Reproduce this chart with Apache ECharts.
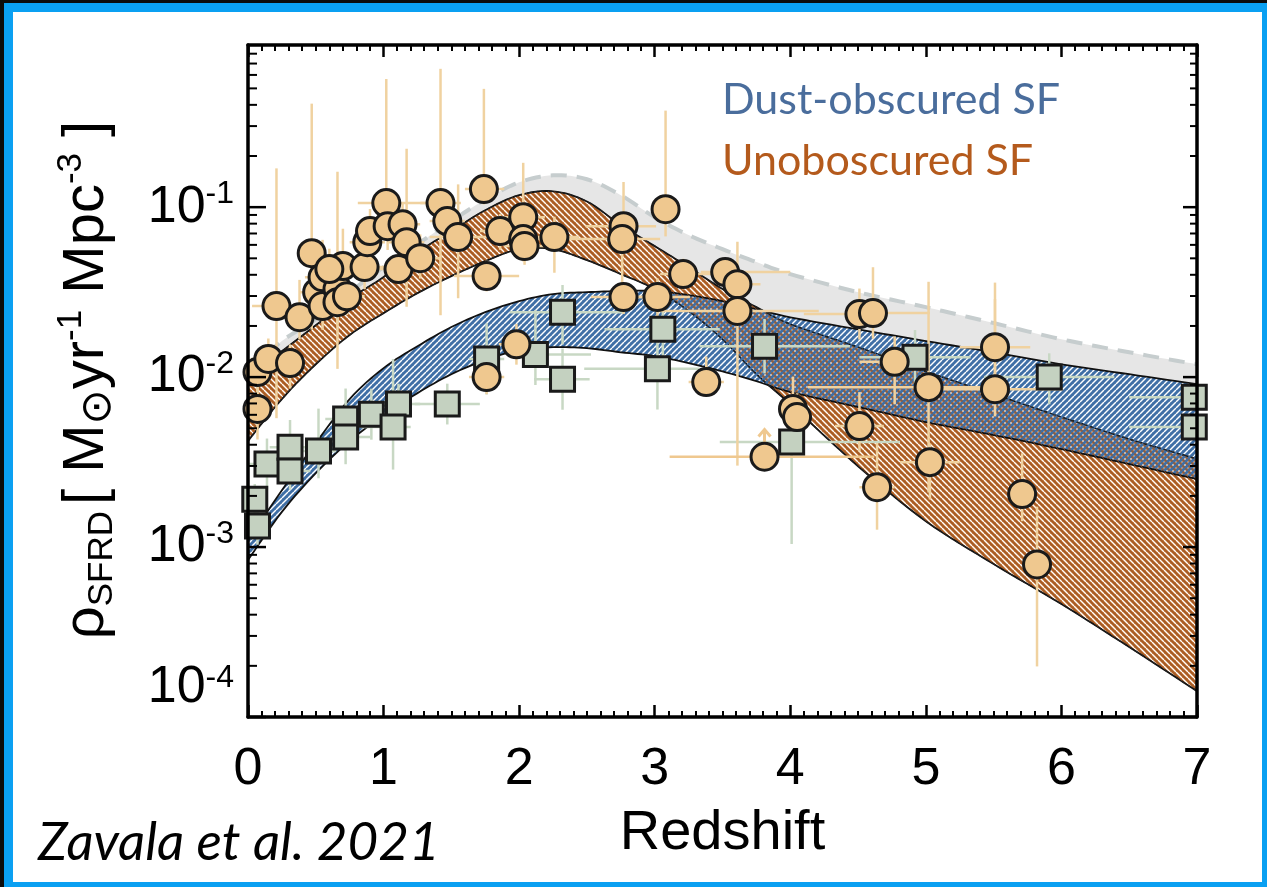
<!DOCTYPE html>
<html>
<head>
<meta charset="utf-8">
<title>Cosmic SFRD</title>
<script src="https://cdn.jsdelivr.net/npm/echarts@6.0.0/dist/echarts.min.js"></script>
<style>
html,body{margin:0;padding:0;width:1267px;height:887px;overflow:hidden;background:#0b0b0b;}
#frame{position:absolute;left:4px;top:3px;width:1263px;height:884px;background:#0aa0f2;}
#inner{position:absolute;left:13px;top:12px;width:1249px;height:870px;background:#ffffff;}
#chart{position:absolute;left:0;top:0;width:1267px;height:887px;}
</style>
</head>
<body>
<div id="frame"></div>
<div id="inner"></div>
<div id="chart"></div>
<script>
// ---------------- data ----------------
const zGrid = [0,0.25,0.5,0.75,1,1.25,1.5,1.75,2,2.25,2.5,2.75,3,3.25,3.5,3.75,4,4.5,5,5.5,6,6.5,7];
// total SFRD upper envelope (grey, dashed)
const totalUpper = [0.0108,0.0163,0.0219,0.0316,0.0444,0.0606,0.0827,0.111,0.14,0.154,0.146,0.1177,0.0873,0.0685,0.0566,0.0475,0.0404,0.0316,0.0258,0.0208,0.0167,0.014,0.0119];
// unobscured SF band (orange)
const unobsUpper = [0.01,0.0142,0.0202,0.0288,0.0388,0.0544,0.0723,0.096,0.1177,0.124,0.108,0.0784,0.059,0.0444,0.033,0.0258,0.0205,0.015,0.0108,0.00794,0.00582,0.00432,0.0033];
const unobsLower = [0.00421,0.00743,0.0119,0.0177,0.0238,0.0312,0.0393,0.0481,0.0566,0.0566,0.0488,0.0404,0.033,0.0245,0.0167,0.0104,0.00694,0.00299,0.00142,0.000794,0.000462,0.000258,0.000142];
// dust-obscured SF band (blue)
const obscUpper = [0.0011,0.00216,0.00409,0.00743,0.0113,0.0152,0.0197,0.0241,0.028,0.0308,0.0316,0.0321,0.0321,0.0304,0.028,0.0251,0.0225,0.0191,0.0163,0.014,0.0119,0.0104,0.0091];
const obscLower = [0.000839,0.00161,0.00272,0.00421,0.00597,0.00805,0.0104,0.0126,0.0144,0.015,0.0148,0.014,0.0133,0.0121,0.0108,0.00946,0.00817,0.00667,0.00544,0.00456,0.00377,0.00308,0.00251];

// UV (unobscured) measurements: [z, rho, zErrLo, zErrHi, dexErrLo, dexErrHi]
const uvPoints = [
 [0.07,0.0107,0.07,0.08,0.13,0.11],[0.07,0.0065,0,0,0.18,0.15],[0.15,0.0128,0.13,0.16,0.15,0.12],
 [0.31,0.0121,0.11,0.11,0.15,0.11],[0.21,0.0262,0.18,0.17,0.66,0.81],[0.38,0.0225,0.11,0.13,0.13,0.22],
 [0.47,0.0536,0,0,0.45,0.88],[0.51,0.0316,0.13,0.13,0.16,0.14],[0.55,0.0387,0.13,0.16,0.13,0.22],
 [0.55,0.0262,0,0,0.14,0.10],[0.66,0.033,0.14,0.17,0.47,0.69],[0.66,0.0276,0,0,0.13,0.11],
 [0.73,0.0299,0.13,0.13,0.11,0.16],[0.70,0.045,0,0,0.14,0.22],[0.60,0.0432,0.11,0.15,0.15,0.12],
 [0.86,0.0444,0.15,0.15,0.13,0.11],[0.88,0.0622,0.13,0.13,0.13,0.14],[0.90,0.0723,0.11,0.16,0.11,0.13],
 [1.02,0.1057,0.21,0.32,0.21,0.73],[1.03,0.0773,0.13,0.13,0.14,0.13],[1.14,0.0794,0.13,0.13,0.12,0.12],
 [1.17,0.0622,0.13,0.13,0.38,0.55],[1.11,0.0432,0.17,0.16,0.09,0.09],[1.27,0.0501,0.15,0.15,0.12,0.14],
 [1.42,0.1057,0.15,0.15,0.66,0.79],[1.47,0.0828,0.13,0.13,0.14,0.13],[1.55,0.0667,0.21,0.24,0.36,0.31],
 [1.74,0.1277,0.14,0.15,0.09,0.59],[1.76,0.0393,0.24,0.24,0.09,0.09],[1.86,0.0723,0.15,0.15,0.11,0.10],
 [2.03,0.0873,0.17,0.16,0.26,0.32],[2.03,0.0649,0.17,0.42,0.12,0.12],[2.04,0.059,0.15,0.15,0.11,0.10],
 [2.26,0.0667,0.15,0.18,0.21,0.12],[1.98,0.0156,0.13,0.13,0.12,0.12],[1.76,0.01,0.13,0.13,0.10,0.11],
 [2.77,0.0773,0.28,0.24,0.14,0.26],[2.76,0.0649,0.31,0.28,0.34,0.12],[2.77,0.0296,0.24,0.24,0.10,0.08],
 [3.02,0.0296,0.24,0.24,0.13,0.11],[3.08,0.0973,0,0,0.16,0.58],[3.21,0.0404,0.17,0.27,0.09,0.09],
 [3.52,0.0415,0.18,0.48,0.10,0.08],[3.61,0.0352,0.13,0.17,0.09,0.25],[3.61,0.0245,0.60,0.60,0.91,0.10],
 [3.38,0.00935,0.13,0.13,0.06,0.15],[4.02,0.0065,0.10,0.13,0.16,0.19],[4.05,0.00582,0.09,0.10,0.13,0.14],
 [4.51,0.0235,0.41,0.07,0.15,0.15],[4.61,0.0238,0.10,0.42,0.15,0.27],[4.77,0.0123,0.26,0.26,0.25,0.15],
 [4.51,0.00515,0.18,0.18,0.15,0.20],[4.64,0.00225,0.13,0.13,0.25,0.26],[5.02,0.00873,0.89,0.53,0.62,0.62],
 [5.03,0.00316,0.22,0.22,0.22,0.11],[5.51,0.015,0.26,0.26,0.22,0.38],[5.51,0.00849,0.48,0.50,0.16,0.53],
 [5.71,0.00205,0,0,0.16,0.24],[5.82,0.00079,0,0,0.60,0.34]
];
// UV lower limits: [z, rho, zErrLo, zErrHi]
const uvLowerLimits = [[3.81,0.0034,0.70,0.81]];
// IR / sub-mm (obscured) measurements: [z, rho, zErrLo, zErrHi, dexErrLo, dexErrHi]
const irPoints = [
 [0.07,0.00133,0.07,0.10,0.11,0.10],[0.05,0.00191,0.05,0.07,0.09,0.09],[0.14,0.00308,0.14,0.17,0.15,0.15],
 [0.31,0.00387,0.15,0.15,0.13,0.16],[0.31,0.0028,0.15,0.15,0.11,0.10],[0.52,0.00367,0.13,0.13,0.16,0.25],
 [0.72,0.00566,0.15,0.15,0.12,0.18],[0.72,0.00444,0.11,0.18,0.16,0.11],[0.91,0.00605,0.13,0.13,0.15,0.15],
 [1.11,0.00694,0.17,0.16,0.12,0.12],[1.07,0.00508,0.24,0.13,0.25,0.40],[1.47,0.00694,0.24,0.24,0.12,0.12],
 [1.76,0.0128,0.13,0.13,0.21,0.21],[2.12,0.0136,0.18,0.41,0.18,0.26],[2.32,0.00973,0.21,0.20,0.18,0.18],
 [2.32,0.0241,0.39,0.46,0.19,0.16],[3.02,0.0112,0.54,0.31,0.24,0.24],[3.06,0.0191,0.43,0.42,0.18,0.15],
 [3.81,0.0152,0.48,0.63,0.16,0.16],[4.01,0.00415,0.53,0.80,0.60,0.25],[4.92,0.0131,0.41,0.41,0.16,0.16],
 [5.91,0.01,0.48,0.48,0.16,0.14],[6.98,0.00762,0.48,0,0,0],[6.98,0.00508,0.48,0,0,0]
];
// axis ticks / labels
const xTickLabels = ['0','1','2','3','4','5','6','7'];
const yLabelExponents = [-4,-3,-2,-1];
const yMinorMultipliers = [2,3,4,5,6,7,8,9];
const legendLabels = ['Dust-obscured SF','Unoboscured SF'];

// ---------------- helpers ----------------
function smooth(pts, n) {
  n = n || 8;
  const out = [];
  for (let i = 0; i < pts.length - 1; i++) {
    const p0 = pts[Math.max(i - 1, 0)], p1 = pts[i], p2 = pts[i + 1], p3 = pts[Math.min(i + 2, pts.length - 1)];
    for (let t = 0; t < n; t++) {
      const s = t / n, s2 = s * s, s3 = s2 * s;
      const f = k => 0.5 * (2 * p1[k] + (-p0[k] + p2[k]) * s + (2 * p0[k] - 5 * p1[k] + 4 * p2[k] - p3[k]) * s2 + (-p0[k] + 3 * p1[k] - 3 * p2[k] + p3[k]) * s3);
      out.push([f(0), f(1)]);
    }
  }
  out.push(pts[pts.length - 1]);
  return out;
}
// filled stripe tile with transparent diagonal gaps
function stripePattern(color, dir, period, gap) {
  const c = document.createElement('canvas');
  c.width = period; c.height = period;
  const g = c.getContext('2d');
  g.fillStyle = color; g.fillRect(0, 0, period, period);
  g.globalCompositeOperation = 'destination-out';
  g.strokeStyle = '#000'; g.lineWidth = gap;
  for (let k = -1; k <= 1; k++) {
    g.beginPath();
    if (dir > 0) { g.moveTo(k * period, period); g.lineTo(k * period + period, 0); }
    else { g.moveTo(k * period, 0); g.lineTo(k * period + period, period); }
    g.stroke();
  }
  return c;
}
// thin diagonal lines only, shifted by half a period
function linePattern(color, dir, period, width) {
  const c = document.createElement('canvas');
  c.width = period; c.height = period;
  const g = c.getContext('2d');
  g.strokeStyle = color; g.lineWidth = width;
  const off = period / 2;
  for (let k = -2; k <= 1; k++) {
    g.beginPath();
    if (dir > 0) { g.moveTo(k * period + off, period); g.lineTo(k * period + off + period, 0); }
    else { g.moveTo(k * period + off, 0); g.lineTo(k * period + off + period, period); }
    g.stroke();
  }
  return c;
}
const bluePattern = { image: stripePattern('#3f6fa6', 1, 6, 1.4), repeat: 'repeat' };
const orangePattern = { image: stripePattern('#b5601f', -1, 6, 1.4), repeat: 'repeat' };
const orangeLines = { image: linePattern('rgba(140,90,60,0.6)', -1, 6, 1.0), repeat: 'repeat' };
const grayLower = zGrid.map((z, i) => Math.max(unobsUpper[i], obscUpper[i]));

function bandRender(upper, lower, style) {
  return function (params, api) {
    if (params.dataIndex !== 0) return null;
    const top = smooth(zGrid.map((z, i) => api.coord([z, upper[i]])));
    const bot = smooth(zGrid.map((z, i) => api.coord([z, lower[i]])));
    return { type: 'polygon', shape: { points: top.concat(bot.reverse()) }, style: style };
  };
}
function linesRender(arrays, style) {
  return function (params, api) {
    if (params.dataIndex !== 0) return null;
    return { type: 'group', children: arrays.map(arr => ({
      type: 'polyline', shape: { points: smooth(zGrid.map((z, i) => api.coord([z, arr[i]]))) }, style: style
    })) };
  };
}
function errRender(pts, color, lw) {
  return function (params, api) {
    if (params.dataIndex !== 0) return null;
    const ch = [];
    pts.forEach(d => {
      const z = d[0], v = d[1];
      if (d[2] || d[3]) {
        const a = api.coord([z - d[2], v]), b = api.coord([z + d[3], v]);
        ch.push({ type: 'line', shape: { x1: a[0], y1: a[1], x2: b[0], y2: b[1] }, style: { stroke: color, lineWidth: lw } });
      }
      if (d[4] || d[5]) {
        const a = api.coord([z, v / Math.pow(10, d[4])]), b = api.coord([z, v * Math.pow(10, d[5])]);
        ch.push({ type: 'line', shape: { x1: a[0], y1: a[1], x2: b[0], y2: b[1] }, style: { stroke: color, lineWidth: lw } });
      }
    });
    return { type: 'group', children: ch };
  };
}
function limitRender(pts, color, lw) {
  return function (params, api) {
    if (params.dataIndex !== 0) return null;
    const ch = [];
    pts.forEach(d => {
      const z = d[0], v = d[1];
      const a = api.coord([z - d[2], v]), b = api.coord([z + d[3], v]);
      ch.push({ type: 'line', shape: { x1: a[0], y1: a[1], x2: b[0], y2: b[1] }, style: { stroke: color, lineWidth: lw } });
      const c = api.coord([z, v]), t = api.coord([z, v * Math.pow(10, 0.16)]);
      ch.push({ type: 'line', shape: { x1: c[0], y1: c[1], x2: t[0], y2: t[1] }, style: { stroke: color, lineWidth: 3 } });
      ch.push({ type: 'polyline', shape: { points: [[t[0] - 6, t[1] + 7], [t[0], t[1]], [t[0] + 6, t[1] + 7]] }, style: { stroke: color, lineWidth: 3, fill: null } });
    });
    return { type: 'group', children: ch };
  };
}
function tickRender(params, api) {
  if (params.dataIndex !== 0) return null;
  const ch = [];
  const L = api.coord([0, 0.01])[0], R = api.coord([7, 0.01])[0];
  yLabelExponents.forEach(e => {
    const base = Math.pow(10, e);
    const y = api.coord([0, base])[1];
    ch.push({ type: 'line', shape: { x1: L, y1: y, x2: L + 18, y2: y }, style: { stroke: '#000', lineWidth: 2.5 } });
    ch.push({ type: 'line', shape: { x1: R, y1: y, x2: R - 14, y2: y }, style: { stroke: '#000', lineWidth: 2.5 } });
    yMinorMultipliers.forEach(m => {
      const yy = api.coord([0, base * m])[1];
      ch.push({ type: 'line', shape: { x1: L, y1: yy, x2: L + 9, y2: yy }, style: { stroke: '#000', lineWidth: 2 } });
      ch.push({ type: 'line', shape: { x1: R, y1: yy, x2: R - 7, y2: yy }, style: { stroke: '#000', lineWidth: 2 } });
    });
  });
  return { type: 'group', children: ch };
}

const FONT = 'Liberation Sans, Arial, Helvetica, sans-serif';
const axisLineStyle = { color: '#000', width: 3.5 };

const option = {
  backgroundColor: 'transparent',
  animation: false,
  grid: { left: 248, top: 45, width: 949, height: 672, outerBoundsMode: 'none', containLabel: false },
  xAxis: [
    { type: 'value', min: 0, max: 7, interval: 1, position: 'bottom', z: 10,
      name: 'Redshift', nameLocation: 'middle', nameGap: 117,
      nameTextStyle: { fontSize: 56, fontFamily: FONT, color: '#000', verticalAlign: 'middle' },
      axisLine: { show: true, onZero: false, lineStyle: axisLineStyle },
      axisTick: { show: true, inside: true, length: 12, lineStyle: { color: '#000', width: 2.5 } },
      minorTick: { show: true, splitNumber: 10, length: 6, lineStyle: { color: '#000', width: 2 } },
      splitLine: { show: false }, minorSplitLine: { show: false },
      axisLabel: { margin: 27, fontSize: 52, fontFamily: FONT, color: '#000',
        formatter: v => xTickLabels[Math.round(v)] || '' } },
    { type: 'value', min: 0, max: 7, interval: 1, position: 'top', z: 10,
      axisLine: { show: true, onZero: false, lineStyle: axisLineStyle },
      axisTick: { show: true, inside: true, length: 12, lineStyle: { color: '#000', width: 2.5 } },
      minorTick: { show: true, splitNumber: 10, length: 6, lineStyle: { color: '#000', width: 2 } },
      splitLine: { show: false }, minorSplitLine: { show: false },
      axisLabel: { show: false } }
  ],
  yAxis: [
    { type: 'log', logBase: 10, min: 1e-4, max: 0.9, position: 'left', z: 10,
      axisLine: { show: true, onZero: false, lineStyle: axisLineStyle },
      axisTick: { show: false }, minorTick: { show: false },
      splitLine: { show: false }, minorSplitLine: { show: false },
      axisLabel: {
        margin: 14, showMinLabel: true, showMaxLabel: false, hideOverlap: false,
        formatter: function (v) {
          const e = Math.log10(v), r = Math.round(e);
          if (Math.abs(e - r) > 1e-6 || yLabelExponents.indexOf(r) < 0) return '';
          if (r === -4) return '{pad| }{b4|10}{s4|' + r + '}';
          return '{b|10}{s|' + r + '}';
        },
        rich: {
          b: { fontSize: 52, lineHeight: 58, fontFamily: FONT, color: '#000' },
          s: { fontSize: 32, lineHeight: 32, fontFamily: FONT, color: '#000', verticalAlign: 'top' },
          pad: { fontSize: 2, lineHeight: 110 },
          b4: { fontSize: 52, lineHeight: 58, fontFamily: FONT, color: '#000', verticalAlign: 'top' },
          s4: { fontSize: 32, lineHeight: 32, fontFamily: FONT, color: '#000', verticalAlign: 'top' }
        }
      } },
    { type: 'log', logBase: 10, min: 1e-4, max: 0.9, position: 'right', z: 10,
      axisLine: { show: true, onZero: false, lineStyle: axisLineStyle },
      axisTick: { show: false }, splitLine: { show: false }, axisLabel: { show: false } }
  ],
  series: [
    { type: 'custom', name: 'total', data: [[0, 0.01]], z: 1, clip: true,
      renderItem: bandRender(totalUpper, grayLower, { fill: '#e6e6e6', stroke: null }) },
    { type: 'custom', name: 'totalEdge', data: [[0, 0.01]], z: 1, clip: true,
      renderItem: linesRender([totalUpper], { stroke: '#c6cdce', lineWidth: 4, lineDash: [16, 10], fill: null }) },
    { type: 'custom', name: legendLabels[1], data: [[0, 0.01]], z: 2, clip: true,
      renderItem: bandRender(unobsUpper, unobsLower, { fill: orangePattern, stroke: '#111', lineWidth: 1.8 }) },
    { type: 'custom', name: legendLabels[0], data: [[0, 0.01]], z: 3, clip: true,
      renderItem: bandRender(obscUpper, obscLower, { fill: bluePattern, stroke: '#111', lineWidth: 1.8 }) },
    { type: 'custom', name: 'unobsHatchOver', data: [[0, 0.01]], z: 3, clip: true,
      renderItem: bandRender(unobsUpper, unobsLower, { fill: orangeLines, stroke: null }) },
    { type: 'custom', name: 'unobsEdge', data: [[0, 0.01]], z: 3, clip: true,
      renderItem: linesRender([unobsUpper, unobsLower], { stroke: '#222', lineWidth: 1.2, lineDash: [4, 3], fill: null }) },
    { type: 'custom', name: 'irErr', data: [[0, 0.01]], z: 4, clip: true,
      renderItem: errRender(irPoints, '#c8d8c4', 2.5) },
    { type: 'custom', name: 'uvErr', data: [[0, 0.01]], z: 4, clip: true,
      renderItem: errRender(uvPoints, '#f0d2a0', 2.5) },
    { type: 'custom', name: 'uvLim', data: [[0, 0.01]], z: 4, clip: true,
      renderItem: limitRender(uvLowerLimits, '#efc88f', 2.5) },
    { type: 'scatter', name: 'IR', data: irPoints.map(d => [d[0], d[1]]), z: 5,
      symbol: 'rect', symbolSize: 24,
      itemStyle: { color: '#c4d1c0', borderColor: '#1a1a1a', borderWidth: 3, opacity: 1 } },
    { type: 'scatter', name: 'UV', data: uvPoints.map(d => [d[0], d[1]]).concat(uvLowerLimits.map(d => [d[0], d[1]])), z: 5,
      symbol: 'circle', symbolSize: 27,
      itemStyle: { color: '#efc88f', borderColor: '#1a1a1a', borderWidth: 3, opacity: 1 } },
    { type: 'custom', name: 'ticks', data: [[0, 0.01]], z: 11, clip: false, renderItem: tickRender }
  ],
  graphic: [
    { type: 'text', x: 87, y: 380, rotation: Math.PI / 2, z: 100,
      style: {
        text: '{r|ρ}{sub|SFRD}{n|[ M}{odot|⊙}{n|yr}{sup|-1}{n| Mpc}{sup|-3}{n| ]}',
        align: 'center', verticalAlign: 'middle',
        rich: {
          r: { fontSize: 58, lineHeight: 66, fontFamily: FONT, fill: '#000' },
          n: { fontSize: 58, lineHeight: 66, fontFamily: FONT, fill: '#000' },
          sub: { fontSize: 35, lineHeight: 35, fontFamily: FONT, fill: '#000', verticalAlign: 'bottom', padding: [0, 6, 0, 0] },
          odot: { fontSize: 42, lineHeight: 42, fontFamily: 'DejaVu Sans, ' + FONT, fill: '#000', verticalAlign: 'bottom' },
          sup: { fontSize: 35, lineHeight: 35, fontFamily: FONT, fill: '#000', verticalAlign: 'top' }
        }
      } },
    { type: 'text', x: 722, y: 100, z: 100,
      style: { text: legendLabels[0], fontSize: 43, fontFamily: 'Lato, Open Sans, sans-serif', fill: '#4a6d9c', align: 'left', verticalAlign: 'middle' } },
    { type: 'text', x: 722, y: 161, z: 100,
      style: { text: legendLabels[1], fontSize: 43, fontFamily: 'Lato, Open Sans, sans-serif', fill: '#b45a1c', align: 'left', verticalAlign: 'middle' } },
    { type: 'text', x: 38, y: 843, z: 100,
      style: { text: 'Zavala et al. 2021', fontSize: 53, fontStyle: 'italic', fontFamily: 'Lato, Open Sans, sans-serif', fill: '#000', align: 'left', verticalAlign: 'middle' } }
  ]
};

const chart = echarts.init(document.getElementById('chart'), null, { renderer: 'canvas' });
chart.setOption(option);
</script>
</body>
</html>
